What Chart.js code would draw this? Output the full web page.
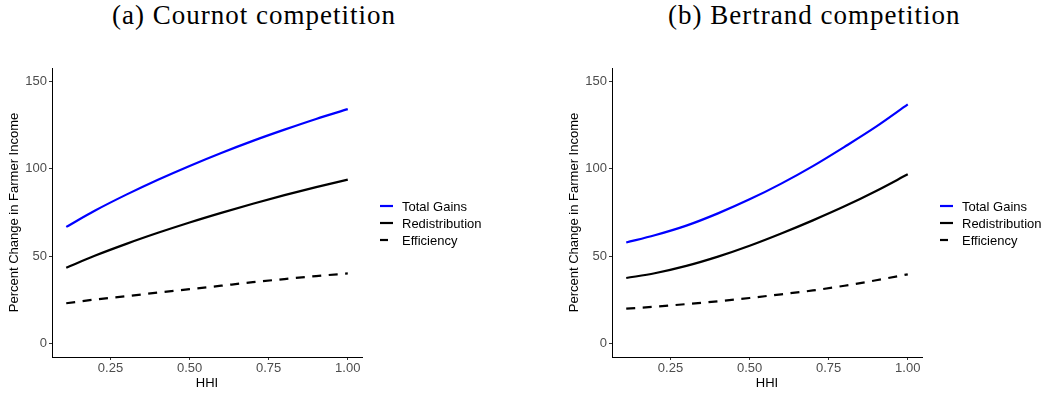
<!DOCTYPE html>
<html>
<head>
<meta charset="utf-8">
<script src="https://cdn.jsdelivr.net/npm/chart.js@4.4.1/dist/chart.umd.min.js"></script>
<style>
  body { margin: 0; background: #fff; width: 1049px; height: 395px; position: relative; overflow: hidden; }
  .title { position: absolute; top: 2px; line-height: 27px; font-family: "Liberation Serif", serif; font-size: 27px;
           letter-spacing: 1px; color: #000; white-space: nowrap; }
  .panel { position: absolute; top: 40px; height: 355px; }
</style>
</head>
<body>
<div class="title" style="left:112px">(a) Cournot competition</div>
<div class="title" style="left:668px">(b) Bertrand competition</div>
<div class="panel" style="left:0; width:520px"><canvas id="cournot"></canvas></div>
<div class="panel" style="left:560px; width:489px"><canvas id="bertrand"></canvas></div>
<script>
// HHI grid shared by both panels
const hhi = [0.11, 0.2, 0.3, 0.4, 0.5, 0.6, 0.7, 0.8, 0.9, 1.0];

// Cournot
const cournotTotal = [66.8, 76.0, 85.2, 93.7, 101.6, 109.0, 115.9, 122.3, 128.4, 134.0];
const cournotRedist = [43.5, 50.3, 57.1, 63.4, 69.3, 74.8, 80.0, 84.9, 89.5, 93.8];
const cournotEff = [23.2, 25.3, 27.2, 29.3, 31.2, 33.2, 35.2, 37.0, 38.7, 40.2];

// Bertrand
const bertrandTotal = [57.9, 62.0, 67.5, 74.5, 82.5, 91.5, 101.5, 112.5, 124.0, 136.7];
const bertrandRedist = [37.6, 40.3, 44.5, 49.8, 56.0, 63.0, 70.5, 78.5, 87.3, 96.8];
const bertrandEff = [20.1, 21.2, 22.7, 24.3, 26.2, 28.3, 30.5, 33.2, 36.3, 39.7];

const seriesNames = ["Total Gains", "Redistribution", "Efficiency"];
const xTicks = [0.25, 0.5, 0.75, 1.0];
const yTicks = [0, 50, 100, 150];

const pts = ys => ys.map((y, i) => ({ x: hhi[i], y: y }));

// legend drawn at a fixed spot, like ggplot's right-side guide
const keyLegend = {
  id: "keyLegend",
  afterDraw(chart) {
    const ctx = chart.ctx;
    const x0 = 380, y0 = 166, step = 17;
    chart.data.datasets.forEach((ds, i) => {
      const y = y0 + i * step;
      ctx.save();
      ctx.strokeStyle = ds.borderColor;
      ctx.lineWidth = 2.2;
      ctx.beginPath();
      if (ds.borderDash && ds.borderDash.length) {
        ctx.moveTo(x0, y); ctx.lineTo(x0 + 8, y);
      } else {
        ctx.moveTo(x0, y); ctx.lineTo(x0 + 13, y);
      }
      ctx.stroke();
      ctx.fillStyle = "#000";
      ctx.font = "13px 'Liberation Sans', Arial, sans-serif";
      ctx.textBaseline = "middle";
      ctx.fillText(ds.label, x0 + 22, y + 1);
      ctx.restore();
    });
  }
};

const sans = "'Liberation Sans', Arial, sans-serif";

function makeChart(id, total, redist, eff, rightPad) {
  const ctx = document.getElementById(id).getContext("2d");
  return new Chart(ctx, {
    type: "line",
    data: {
      datasets: [
        { label: seriesNames[0], data: pts(total), borderColor: "#0000ff", borderWidth: 2.2 },
        { label: seriesNames[1], data: pts(redist), borderColor: "#000000", borderWidth: 2.2 },
        { label: seriesNames[2], data: pts(eff), borderColor: "#000000", borderWidth: 2.2, borderDash: [9, 7.5] }
      ]
    },
    options: {
      responsive: true,
      maintainAspectRatio: false,
      animation: false,
      layout: { padding: { left: 0, top: 28, right: rightPad, bottom: 0 } },
      elements: { point: { radius: 0 }, line: { cubicInterpolationMode: "monotone" } },
      plugins: { legend: { display: false }, tooltip: { enabled: false } },
      scales: {
        x: {
          type: "linear",
          min: 0.065,
          max: 1.045,
          afterBuildTicks: s => { s.ticks = xTicks.map(v => ({ value: v })); },
          afterFit: s => { s.height = 38; },
          grid: { drawOnChartArea: false, drawTicks: true, tickLength: 3, color: "#333" },
          border: { display: true, color: "#000", width: 1 },
          ticks: { color: "#4d4d4d", font: { family: sans, size: 13 }, padding: 1,
                   callback: v => Number(v).toFixed(2), maxRotation: 0 },
          title: { display: true, text: "HHI", color: "#000", font: { family: sans, size: 13 }, padding: { top: 0, bottom: 4 } }
        },
        y: {
          min: -7.5,
          max: 157.5,
          afterBuildTicks: s => { s.ticks = yTicks.map(v => ({ value: v })); },
          afterFit: s => { s.width = 52; },
          grid: { drawOnChartArea: false, drawTicks: true, tickLength: 3, color: "#333" },
          border: { display: true, color: "#000", width: 1 },
          ticks: { color: "#4d4d4d", font: { family: sans, size: 13 }, padding: 2 },
          title: { display: true, text: "Percent Change in Farmer Income", color: "#000",
                   font: { family: sans, size: 13 }, padding: { top: 7, bottom: 0 } }
        }
      }
    },
    plugins: [keyLegend]
  });
}

makeChart("cournot", cournotTotal, cournotRedist, cournotEff, 158);
makeChart("bertrand", bertrandTotal, bertrandRedist, bertrandEff, 127);
</script>
</body>
</html>
